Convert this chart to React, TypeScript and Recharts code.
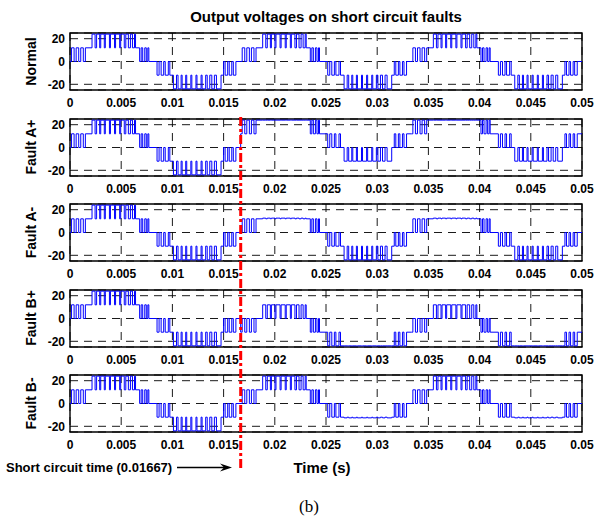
import React from 'react';
import { LineChart, Line, XAxis, YAxis, CartesianGrid, ReferenceArea } from 'recharts';

// one 60 Hz cycle of the 5-level output (ms, volts)
const switchTimesMs = [
  0, 0.15, 0.4, 0.6, 0.85, 1.05, 1.3, 1.5,
  2.15, 2.45, 2.6, 2.9, 3.0, 3.35, 3.45, 3.85, 3.95, 4.35, 4.45, 4.85, 4.95, 5.3, 5.45, 5.7, 5.9, 6.1, 6.3, 6.4,
  6.8, 6.95, 7.1, 7.3, 7.45, 7.6, 7.7,
  8.5, 8.7, 8.9, 9.15, 9.3, 9.6, 9.75,
  10.1, 10.4, 10.55, 10.85, 10.95, 11.3, 11.4, 11.8, 11.9, 12.3, 12.4, 12.8, 12.9, 13.25, 13.4, 13.65, 13.85, 14.1, 14.3, 14.75,
  15.0, 15.15, 15.4, 15.55, 15.8, 15.95, 16.2,
];
const switchLevels = [
  0, 12, 0, 12, 0, 12, 0, 12,
  24, 12, 24, 12, 24, 12, 24, 12, 24, 12, 24, 12, 24, 12, 24, 12, 24, 12, 24, 12,
  0, 12, 0, 12, 0, 12, 0,
  -12, 0, -12, 0, -12, 0, -12,
  -24, -12, -24, -12, -24, -12, -24, -12, -24, -12, -24, -12, -24, -12, -24, -12, -24, -12, -24, -12,
  0, -12, 0, -12, 0, -12, 0,
];

// level seen after the fault for each healthy level
const healthyLevels = [24, 12, 0, -12, -24];
const faultAPlusLevels = [24, 24, 12, 0, -12];
const faultAMinusLevels = [12.6, 12, 0, -12, -24];
const faultBPlusLevels = [12, 0, -12, -24, -24];
const faultBMinusLevels = [24, 12, 0, -12, -12.6];

const panelNames = ['Normal', 'Fault A+', 'Fault A-', 'Fault B+', 'Fault B-'];
const panelMaps: (number[] | null)[] = [null, faultAPlusLevels, faultAMinusLevels, faultBPlusLevels, faultBMinusLevels];

const xTicks = [0, 0.005, 0.01, 0.015, 0.02, 0.025, 0.03, 0.035, 0.04, 0.045, 0.05];
const xTickLabels = ['0', '0.005', '0.01', '0.015', '0.02', '0.025', '0.03', '0.035', '0.04', '0.045', '0.05'];
const yTicks = [-20, 0, 20];

const PERIOD_MS = 1000 / 60;
const CYCLES = 3;
const T_END = 0.05;
const FAULT_TIME = 0.01667;

const buildSeries = (map: number[] | null) => {
  const pts: { t: number; v: number }[] = [];
  let last = 0;
  for (let k = 0; k < CYCLES; k++) {
    for (let i = 0; i < switchTimesMs.length; i++) {
      const t = (k * PERIOD_MS + switchTimesMs[i]) / 1000;
      if (t > T_END) break;
      let v = switchLevels[i];
      if (map && t >= FAULT_TIME - 1e-5) v = map[healthyLevels.indexOf(v)];
      pts.push({ t, v });
      last = v;
    }
  }
  pts.push({ t: T_END, v: last });
  return pts;
};

const W = 598;
const H = 519;
const PLOT_LEFT = 70;
const PLOT_RIGHT = 582;
const PANEL_TOP0 = 28;
const PANEL_PITCH = 85.5;
const CHART_H = 82;
const FONT = 'Arial, Helvetica, sans-serif';

const tickStyle = { fill: '#000', fontSize: 12, fontWeight: 'bold', fontFamily: FONT };

const Panel: React.FC<{ data: { t: number; v: number }[] }> = ({ data }) => (
  <LineChart width={W} height={CHART_H} data={data} margin={{ top: 5, right: W - PLOT_RIGHT, bottom: 0, left: 40 }}>
    <CartesianGrid stroke="#000" strokeWidth={0.9} strokeDasharray="8 6" />
    <XAxis
      dataKey="t"
      type="number"
      domain={[0, T_END]}
      ticks={xTicks}
      interval={0}
      allowDataOverflow
      tickFormatter={(v: number) => xTickLabels[xTicks.indexOf(v)] ?? String(v)}
      tickLine={false}
      axisLine={false}
      height={20}
      tick={tickStyle}
    />
    <YAxis
      type="number"
      domain={[-25, 25]}
      ticks={yTicks}
      interval={0}
      width={30}
      tickSize={3}
      tickLine={false}
      axisLine={false}
      tick={tickStyle}
    />
    <Line type="stepAfter" dataKey="v" stroke="#0000FF" strokeWidth={1} dot={false} isAnimationActive={false} />
    <ReferenceArea x1={0} x2={T_END} y1={-25} y2={25} fill="none" stroke="#000" strokeWidth={1.4} />
  </LineChart>
);

export default function App() {
  const faultX = PLOT_LEFT + (FAULT_TIME / T_END) * (PLOT_RIGHT - PLOT_LEFT);
  return (
    <div style={{ position: 'absolute', left: 0, top: 0, width: W, height: H, background: '#fff' }}>
      {panelNames.map((name, i) => (
        <div key={name} style={{ position: 'absolute', left: 0, top: PANEL_TOP0 + i * PANEL_PITCH }}>
          <Panel data={buildSeries(panelMaps[i])} />
        </div>
      ))}
      <svg width={W} height={H} style={{ position: 'absolute', left: 0, top: 0, pointerEvents: 'none' }}>
        <text x={(PLOT_LEFT + PLOT_RIGHT) / 2} y={22} textAnchor="middle" fontFamily={FONT} fontWeight="bold" fontSize={15}>
          Output voltages on short circuit faults
        </text>
        {panelNames.map((name, i) => {
          const cy = PANEL_TOP0 + i * PANEL_PITCH + 5 + 28.5;
          return (
            <text
              key={name}
              x={31}
              y={cy}
              transform={`rotate(-90 31 ${cy})`}
              textAnchor="middle"
              dominantBaseline="central"
              fontFamily={FONT}
              fontWeight="bold"
              fontSize={14}
            >
              {name}
            </text>
          );
        })}
        <line x1={faultX} x2={faultX} y1={117} y2={469} stroke="#FF0000" strokeWidth={3} strokeDasharray="9 3 3 3" />
        <text x={6} y={472} fontFamily={FONT} fontWeight="bold" fontSize={13}>
          Short circuit time (0.01667)
        </text>
        <line x1={177} x2={226} y1={467.5} y2={467.5} stroke="#000" strokeWidth={1.5} />
        <polygon points={`232,467.5 220,463.5 224,467.5 220,471.5`} fill="#000" />
        <text x={(PLOT_LEFT + PLOT_RIGHT) / 2 - 4} y={473} textAnchor="middle" fontFamily={FONT} fontWeight="bold" fontSize={15}>
          Time (s)
        </text>
        <text x={309} y={512} textAnchor="middle" fontFamily="'Liberation Serif', 'Times New Roman', serif" fontSize={17}>
          (b)
        </text>
      </svg>
    </div>
  );
}
